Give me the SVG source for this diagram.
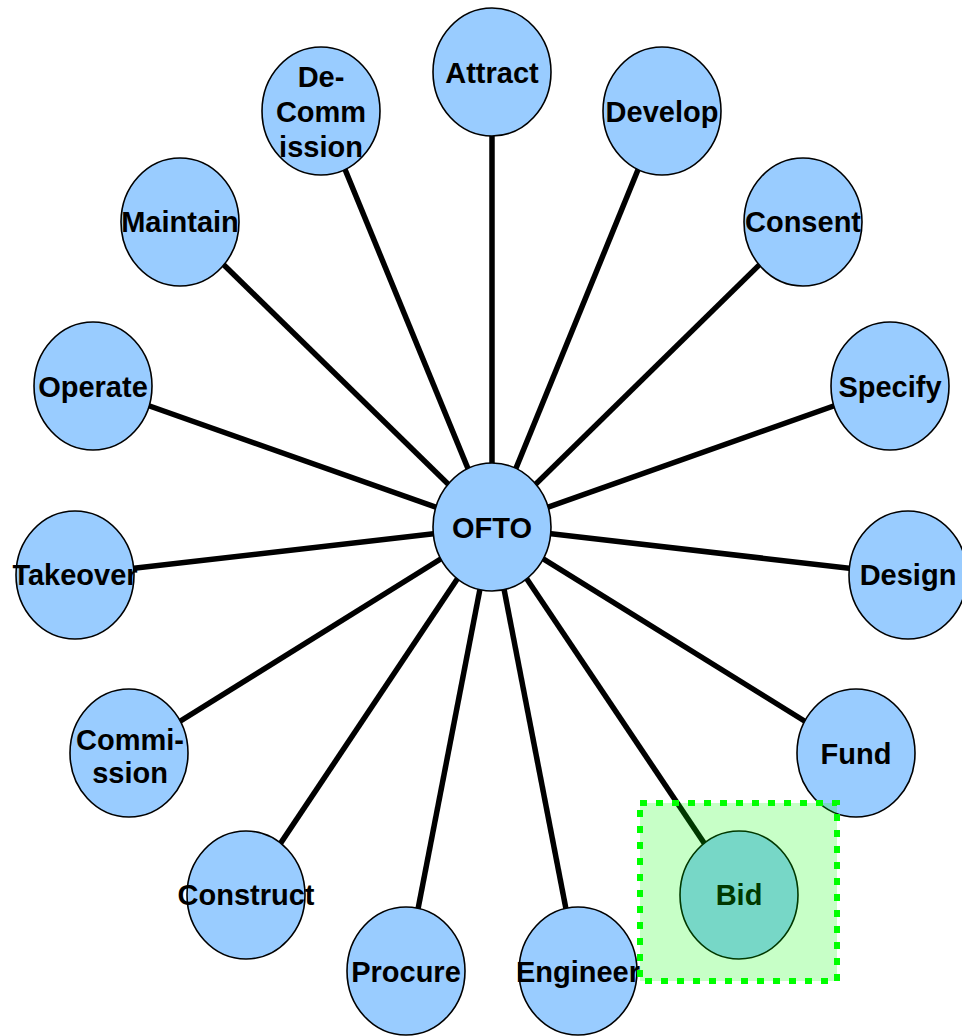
<svg xmlns="http://www.w3.org/2000/svg" width="962" height="1036" viewBox="0 0 962 1036">
<style>
.node ellipse{fill:#99CCFF;stroke:#000;stroke-width:1.6}
.node text{font-family:"Liberation Sans",Arial,sans-serif;font-weight:bold;font-size:29px;fill:#000;text-anchor:middle}
.conn line{stroke:#000;stroke-width:5.5}
</style>
<rect width="962" height="1036" fill="#fff"/>
<g id="connectors" class="conn">
<line x1="492" y1="527" x2="492" y2="72"/>
<line x1="492" y1="527" x2="321" y2="111"/>
<line x1="492" y1="527" x2="662" y2="111"/>
<line x1="492" y1="527" x2="803" y2="222"/>
<line x1="492" y1="527" x2="180" y2="222"/>
<line x1="492" y1="527" x2="93" y2="386"/>
<line x1="492" y1="527" x2="890" y2="386"/>
<line x1="492" y1="527" x2="75" y2="575"/>
<line x1="492" y1="527" x2="908" y2="575"/>
<line x1="492" y1="527" x2="129" y2="753"/>
<line x1="492" y1="527" x2="856" y2="753"/>
<line x1="492" y1="527" x2="246" y2="895"/>
<line x1="492" y1="527" x2="739" y2="895"/>
<line x1="492" y1="527" x2="406" y2="971"/>
<line x1="492" y1="527" x2="578" y2="971"/>
</g>
<g id="attract" class="node"><ellipse cx="492" cy="72" rx="59" ry="64"/><text x="492" y="83">Attract</text></g>
<g id="decommission" class="node"><ellipse cx="321" cy="111" rx="59" ry="64"/><text x="321" y="87">De-</text><text x="321" y="122">Comm</text><text x="321" y="157">ission</text></g>
<g id="develop" class="node"><ellipse cx="662" cy="111" rx="59" ry="64"/><text x="662" y="122">Develop</text></g>
<g id="consent" class="node"><ellipse cx="803" cy="222" rx="59" ry="64"/><text x="803" y="232">Consent</text></g>
<g id="maintain" class="node"><ellipse cx="180" cy="222" rx="59" ry="64"/><text x="180" y="232">Maintain</text></g>
<g id="operate" class="node"><ellipse cx="93" cy="386" rx="59" ry="64"/><text x="93" y="397">Operate</text></g>
<g id="specify" class="node"><ellipse cx="890" cy="386" rx="59" ry="64"/><text x="890" y="397">Specify</text></g>
<g id="takeover" class="node"><ellipse cx="75" cy="575" rx="59" ry="64"/><text x="75" y="585">Takeover</text></g>
<g id="design" class="node"><ellipse cx="908" cy="575" rx="59" ry="64"/><text x="908" y="585">Design</text></g>
<g id="commission" class="node"><ellipse cx="129" cy="753" rx="59" ry="64"/><text x="130" y="750">Commi-</text><text x="130" y="783">ssion</text></g>
<g id="fund" class="node"><ellipse cx="856" cy="753" rx="59" ry="64"/><text x="856" y="764">Fund</text></g>
<g id="construct" class="node"><ellipse cx="246" cy="895" rx="59" ry="64"/><text x="246" y="905">Construct</text></g>
<g id="bid" class="node"><ellipse cx="739" cy="895" rx="59" ry="64"/><text x="739" y="905">Bid</text></g>
<g id="procure" class="node"><ellipse cx="406" cy="971" rx="59" ry="64"/><text x="406" y="982">Procure</text></g>
<g id="engineer" class="node"><ellipse cx="578" cy="971" rx="59" ry="64"/><text x="578" y="982">Engineer</text></g>
<g id="ofto" class="node"><ellipse cx="492" cy="527" rx="59" ry="64"/><text x="492" y="538">OFTO</text></g>
<g id="highlight"><rect x="640" y="803" width="197" height="178" fill="#00FF00" fill-opacity="0.22" stroke="#00FF00" stroke-width="6" stroke-dasharray="7 9"/></g>
</svg>
